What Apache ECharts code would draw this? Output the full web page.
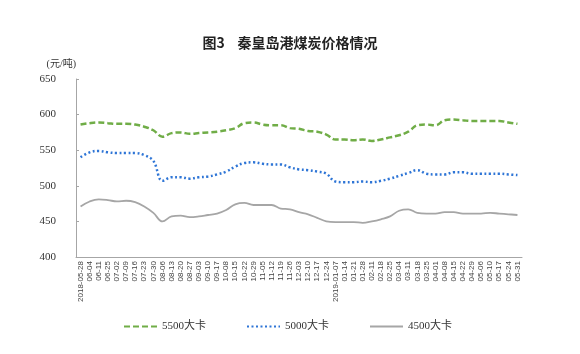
<!DOCTYPE html>
<html>
<head>
<meta charset="utf-8">
<script src="https://cdn.jsdelivr.net/npm/echarts@6/dist/echarts.min.js"></script>
<style>
  html, body { margin: 0; padding: 0; background: #fff; }
  #main { width: 580px; height: 354px; }
</style>
</head>
<body>
<div id="main"></div>
<script>
// 日期（周）
const dates = ['2018-05-28', '06-04', '06-11', '06-25', '07-02', '07-09', '07-16', '07-23', '07-30',
  '08-06', '08-13', '08-20', '08-27', '09-03', '09-10', '09-17', '10-08', '10-15', '10-22', '10-29',
  '11-05', '11-12', '11-19', '11-26', '12-03', '12-10', '12-17', '12-24', '2019-01-07', '01-14',
  '01-21', '01-28', '02-11', '02-18', '02-25', '03-04', '03-11', '03-18', '03-25', '04-01', '04-08',
  '04-15', '04-22', '04-29', '05-06', '05-10', '05-17', '05-24', '05-31']

// 5500大卡
const kcal5500 = [586, 588, 589, 588, 587, 587, 586, 583, 578, 569, 574, 575, 573, 574, 575, 576,
  578, 581, 588, 589, 586, 585, 585, 581, 580, 577, 576, 572, 565, 565, 564, 565, 563, 565, 568,
  571, 576, 585, 586, 585, 592, 593, 592, 591, 591, 591, 591, 589, 587]

// 5000大卡
const kcal5000 = [540, 547, 549, 547, 546, 546, 546, 543, 535, 507, 512, 512, 510, 512, 513, 516,
  520, 527, 532, 533, 531, 530, 530, 526, 523, 522, 520, 517, 506, 505, 505, 506, 505, 507, 510,
  514, 518, 522, 517, 516, 516, 519, 519, 517, 517, 517, 517, 516, 515]

// 4500大卡
const kcal4500 = [471, 478, 481, 480, 478, 479, 477, 471, 462, 450, 457, 458, 456, 457, 459, 461,
  466, 474, 476, 473, 473, 473, 468, 467, 463, 460, 455, 450, 449, 449, 449, 448, 450, 453, 457,
  465, 467, 462, 461, 461, 463, 463, 461, 461, 461, 462, 461, 460, 459]

const chart = echarts.init(document.getElementById('main'))

const option = {
  animation: false,
  backgroundColor: '#fff',
  title: {
    text: '图3    秦皇岛港煤炭价格情况',
    left: 'center',
    top: 31,
    textStyle: { fontFamily: 'Noto Sans CJK SC', fontSize: 14, fontWeight: 'bold', color: '#222' }
  },
  legend: {
    left: 118,
    top: 316,
    itemWidth: 33,
    itemHeight: 10,
    itemGap: 40,
    itemStyle: { opacity: 0 },
    textStyle: { fontFamily: 'Liberation Serif, Noto Sans CJK SC', fontSize: 11, color: '#333' },
    data: ['5500大卡', '5000大卡', '4500大卡']
  },
  grid: { left: 76, right: 58, top: 79, bottom: 97 },
  xAxis: {
    type: 'category',
    data: dates,
    boundaryGap: true,
    axisLine: { lineStyle: { color: '#a6a6a6', width: 1 } },
    axisTick: {
      inside: true,
      length: 3,
      interval: (index) => index % 3 === 1,
      lineStyle: { color: '#a6a6a6' }
    },
    axisLabel: {
      interval: 0,
      rotate: 90,
      fontSize: 8,
      margin: 4,
      color: '#444',
      fontFamily: 'Liberation Sans'
    }
  },
  yAxis: {
    type: 'value',
    name: '(元/吨)',
    nameLocation: 'end',
    nameGap: 10,
    nameTextStyle: { fontFamily: 'Liberation Serif, Noto Sans CJK SC', fontSize: 10, color: '#333', align: 'right' },
    min: 400,
    max: 650,
    interval: 50,
    axisLine: { show: true, lineStyle: { color: '#a6a6a6' } },
    axisTick: { show: true, inside: true, length: 3, lineStyle: { color: '#a6a6a6' } },
    axisLabel: { fontFamily: 'Liberation Serif', fontSize: 11, color: '#333', margin: 20 },
    splitLine: { show: false }
  },
  series: [
    {
      name: '5500大卡',
      type: 'line',
      data: kcal5500,
      smooth: 0.4,
      symbol: 'none',
      itemStyle: { color: '#70ad47' },
      lineStyle: { color: '#70ad47', width: 2.5, type: [6, 3] }
    },
    {
      name: '5000大卡',
      type: 'line',
      data: kcal5000,
      smooth: 0.4,
      symbol: 'none',
      itemStyle: { color: '#2e75d6' },
      lineStyle: { color: '#2e75d6', width: 2.5, type: [2, 2.5] }
    },
    {
      name: '4500大卡',
      type: 'line',
      data: kcal4500,
      smooth: 0.4,
      symbol: 'none',
      itemStyle: { color: '#a6a6a6' },
      lineStyle: { color: '#a6a6a6', width: 1.8 }
    }
  ]
}

chart.setOption(option)
</script>
</body>
</html>
